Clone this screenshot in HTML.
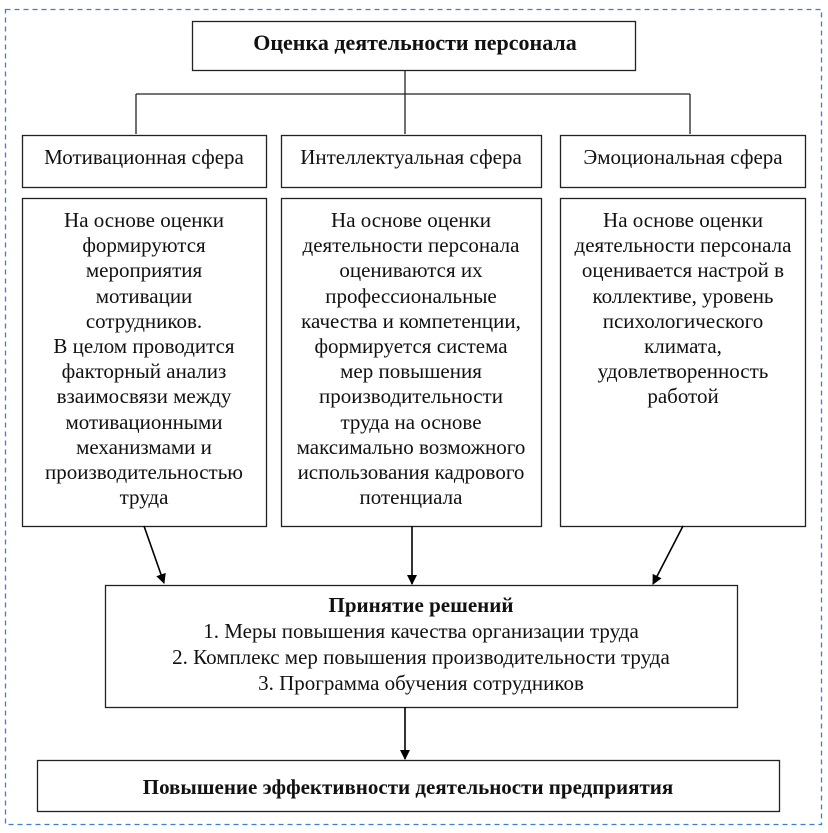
<!DOCTYPE html>
<html><head><meta charset="utf-8"><style>
html,body{margin:0;padding:0;background:#fff;}
svg{display:block;font-family:"Liberation Serif",serif;}
</style></head><body>
<svg width="828" height="833" viewBox="0 0 828 833" xmlns="http://www.w3.org/2000/svg">
<defs><marker id="a" markerWidth="10" markerHeight="10" refX="9" refY="5" orient="auto" markerUnits="userSpaceOnUse"><path d="M0,0 L10,5 L0,10 z" fill="#000"/></marker></defs>
<rect x="5.5" y="9.5" width="816" height="815" fill="none" stroke="#3a7fd0" stroke-width="1.3" stroke-dasharray="5,4"/>
<g fill="none" stroke="#222" stroke-width="1.3">
<rect x="192.5" y="21.5" width="443" height="49"/>
<path d="M405,70 V94 M136,94 H690 M136,94 V134 M405,94 V134 M690,94 V134"/>
<rect x="22.5" y="135.5" width="244" height="52"/>
<rect x="281.5" y="135.5" width="260" height="52"/>
<rect x="560.5" y="135.5" width="245" height="52"/>
<rect x="22.5" y="198.5" width="244" height="328"/>
<rect x="281.5" y="198.5" width="260" height="328"/>
<rect x="560.5" y="198.5" width="245" height="328"/>
<rect x="105.5" y="585.5" width="632" height="122"/>
<rect x="37.5" y="760.5" width="742" height="51"/>
</g>
<g stroke="#000" stroke-width="1.6">
<line x1="144" y1="526" x2="164" y2="583" marker-end="url(#a)"/>
<line x1="412" y1="526" x2="412" y2="584" marker-end="url(#a)"/>
<line x1="683" y1="526" x2="653" y2="584" marker-end="url(#a)"/>
<line x1="405" y1="707" x2="405" y2="759" marker-end="url(#a)"/>
</g>
<g font-size="21" text-anchor="middle" fill="#111">
<text x="415" y="50" font-weight="bold" font-size="22">Оценка деятельности персонала</text>
<text x="144" y="164">Мотивационная сфера</text>
<text x="411" y="164">Интеллектуальная сфера</text>
<text x="683" y="164">Эмоциональная сфера</text>
<g>
<text x="144" y="227">На основе оценки</text>
<text x="144" y="252">формируются</text>
<text x="144" y="277">мероприятия</text>
<text x="144" y="303">мотивации</text>
<text x="144" y="328">сотрудников.</text>
<text x="144" y="353">В целом проводится</text>
<text x="144" y="378">факторный анализ</text>
<text x="144" y="403">взаимосвязи между</text>
<text x="144" y="429">мотивационными</text>
<text x="144" y="454">механизмами и</text>
<text x="144" y="479">производительностью</text>
<text x="144" y="504">труда</text>
</g>
<g>
<text x="411" y="227">На основе оценки</text>
<text x="411" y="252">деятельности персонала</text>
<text x="411" y="277">оцениваются их</text>
<text x="411" y="303">профессиональные</text>
<text x="411" y="328">качества и компетенции,</text>
<text x="411" y="353">формируется система</text>
<text x="411" y="378">мер повышения</text>
<text x="411" y="403">производительности</text>
<text x="411" y="429">труда на основе</text>
<text x="411" y="454">максимально возможного</text>
<text x="411" y="479">использования кадрового</text>
<text x="411" y="504">потенциала</text>
</g>
<g>
<text x="683" y="227">На основе оценки</text>
<text x="683" y="252">деятельности персонала</text>
<text x="683" y="277">оценивается настрой в</text>
<text x="683" y="303">коллективе, уровень</text>
<text x="683" y="328">психологического</text>
<text x="683" y="353">климата,</text>
<text x="683" y="378">удовлетворенность</text>
<text x="683" y="403">работой</text>
</g>
<text x="421" y="612" font-weight="bold">Принятие решений</text>
<text x="421" y="638">1. Меры повышения качества организации труда</text>
<text x="421" y="664">2. Комплекс мер повышения производительности труда</text>
<text x="421" y="690">3. Программа обучения сотрудников</text>
<text x="408" y="794" font-weight="bold">Повышение эффективности деятельности предприятия</text>
</g>
</svg>
</body></html>
